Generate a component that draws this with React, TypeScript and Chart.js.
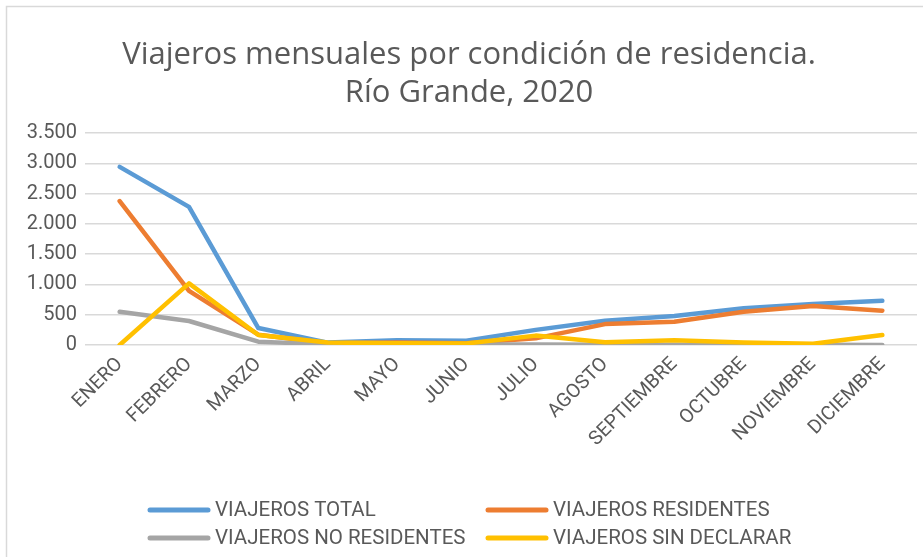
import React, { useEffect, useRef } from "react";
import { Chart, registerables } from "chart.js";

Chart.register(...registerables);

const MONTHS = ["ENERO", "FEBRERO", "MARZO", "ABRIL", "MAYO", "JUNIO", "JULIO", "AGOSTO", "SEPTIEMBRE", "OCTUBRE", "NOVIEMBRE", "DICIEMBRE"];
const TOTAL = [2940, 2280, 280, 40, 80, 70, 250, 400, 480, 605, 676, 730];
const RESIDENTES = [2376, 895, 170, 30, 40, 30, 110, 345, 385, 550, 643, 566];
const NO_RESIDENTES = [550, 396, 55, 10, 10, 10, 10, 5, 5, 5, 5, 0];
const SIN_DECLARAR = [0, 1018, 165, 40, 30, 25, 155, 45, 80, 40, 20, 165];
const SERIES_NAMES = ["VIAJEROS TOTAL", "VIAJEROS RESIDENTES", "VIAJEROS NO RESIDENTES", "VIAJEROS SIN DECLARAR"];
const COLORS = ["#5B9BD5", "#ED7D31", "#A5A5A5", "#FFC000"];
const TITLE_LINES = ["Viajeros mensuales por condición de residencia.", "Río Grande, 2020"];

const TEXT_COLOR = "#595959";
const TICK_FONT = "Roboto";

const fmt = (v: number) => String(v).replace(/\B(?=(\d{3})+(?!\d))/g, ".");

const framePlugin = {
  id: "frame",
  beforeDraw(chart: any) {
    const { ctx, width, height } = chart;
    ctx.save();
    ctx.fillStyle = "#ffffff";
    ctx.fillRect(0, 0, width, height);
    ctx.strokeStyle = "#D9D9D9";
    ctx.lineWidth = 1.5;
    ctx.beginPath();
    ctx.moveTo(6.5, height + 2);
    ctx.lineTo(6.5, 6.5);
    ctx.lineTo(width + 2, 6.5);
    ctx.stroke();
    ctx.restore();
  },
};

const titlePlugin = {
  id: "excelTitle",
  afterDraw(chart: any) {
    const { ctx } = chart;
    ctx.save();
    ctx.font = `31px "Open Sans"`;
    ctx.fillStyle = TEXT_COLOR;
    ctx.textAlign = "center";
    ctx.textBaseline = "middle";
    TITLE_LINES.forEach((line, i) => {
      ctx.fillText(line, 469, 55 + i * 38);
    });
    ctx.restore();
  },
};

const legendPlugin = {
  id: "gridLegend",
  afterDraw(chart: any) {
    const { ctx } = chart;
    const cols = [148, 486];
    const rows = [510, 538];
    ctx.save();
    ctx.font = `20.5px ${TICK_FONT}`;
    ctx.textBaseline = "middle";
    ctx.textAlign = "left";
    chart.data.datasets.forEach((ds: any, i: number) => {
      const x = cols[i % 2];
      const y = rows[Math.floor(i / 2)];
      ctx.strokeStyle = ds.borderColor;
      ctx.lineWidth = 5;
      ctx.lineCap = "round";
      ctx.beginPath();
      ctx.moveTo(x + 2, y);
      ctx.lineTo(x + 60, y);
      ctx.stroke();
      ctx.fillStyle = TEXT_COLOR;
      ctx.fillText(ds.label, x + 67, y + 1);
    });
    ctx.restore();
  },
};

export default function App() {
  const ref = useRef<HTMLCanvasElement | null>(null);
  useEffect(() => {
    document.body.style.margin = "0";
    const canvas = ref.current!;
    const seriesData = [TOTAL, RESIDENTES, NO_RESIDENTES, SIN_DECLARAR];
    const chart = new Chart(canvas, {
      type: "line",
      data: {
        labels: MONTHS,
        datasets: seriesData.map((d, i) => ({
          label: SERIES_NAMES[i],
          data: d,
          borderColor: COLORS[i],
          backgroundColor: COLORS[i],
          borderWidth: 4.5,
          pointRadius: 0,
          tension: 0,
          borderCapStyle: "round" as const,
          borderJoinStyle: "round" as const,
          order: 3 - i,
        })),
      },
      options: {
        responsive: false,
        animation: false,
        layout: { padding: { left: 0, right: 6, top: 133, bottom: 0 } },
        plugins: {
          legend: { display: false },
          tooltip: { enabled: false },
          title: { display: false },
        },
        scales: {
          x: {
            offset: true,
            grid: { display: false, drawTicks: false },
            border: { display: false },
            ticks: {
              color: TEXT_COLOR,
              font: { family: TICK_FONT, size: 19.5 },
              minRotation: 45,
              maxRotation: 45,
              padding: 8,
              autoSkip: false,
            },
            afterFit: (scale: any) => {
              scale.height = 212;
            },
          },
          y: {
            min: 0,
            max: 3500,
            grid: { color: "#D9D9D9", lineWidth: 1.5, drawTicks: false },
            border: { display: false },
            ticks: {
              stepSize: 500,
              color: TEXT_COLOR,
              font: { family: TICK_FONT, size: 20 },
              padding: 8,
              callback: (v: any) => fmt(Number(v)),
            },
            afterFit: (scale: any) => {
              scale.width = 85;
            },
          },
        },
      },
      plugins: [framePlugin, titlePlugin, legendPlugin],
    });
    return () => chart.destroy();
  }, []);
  return <canvas ref={ref} width={923} height={557} style={{ display: "block" }} />;
}
